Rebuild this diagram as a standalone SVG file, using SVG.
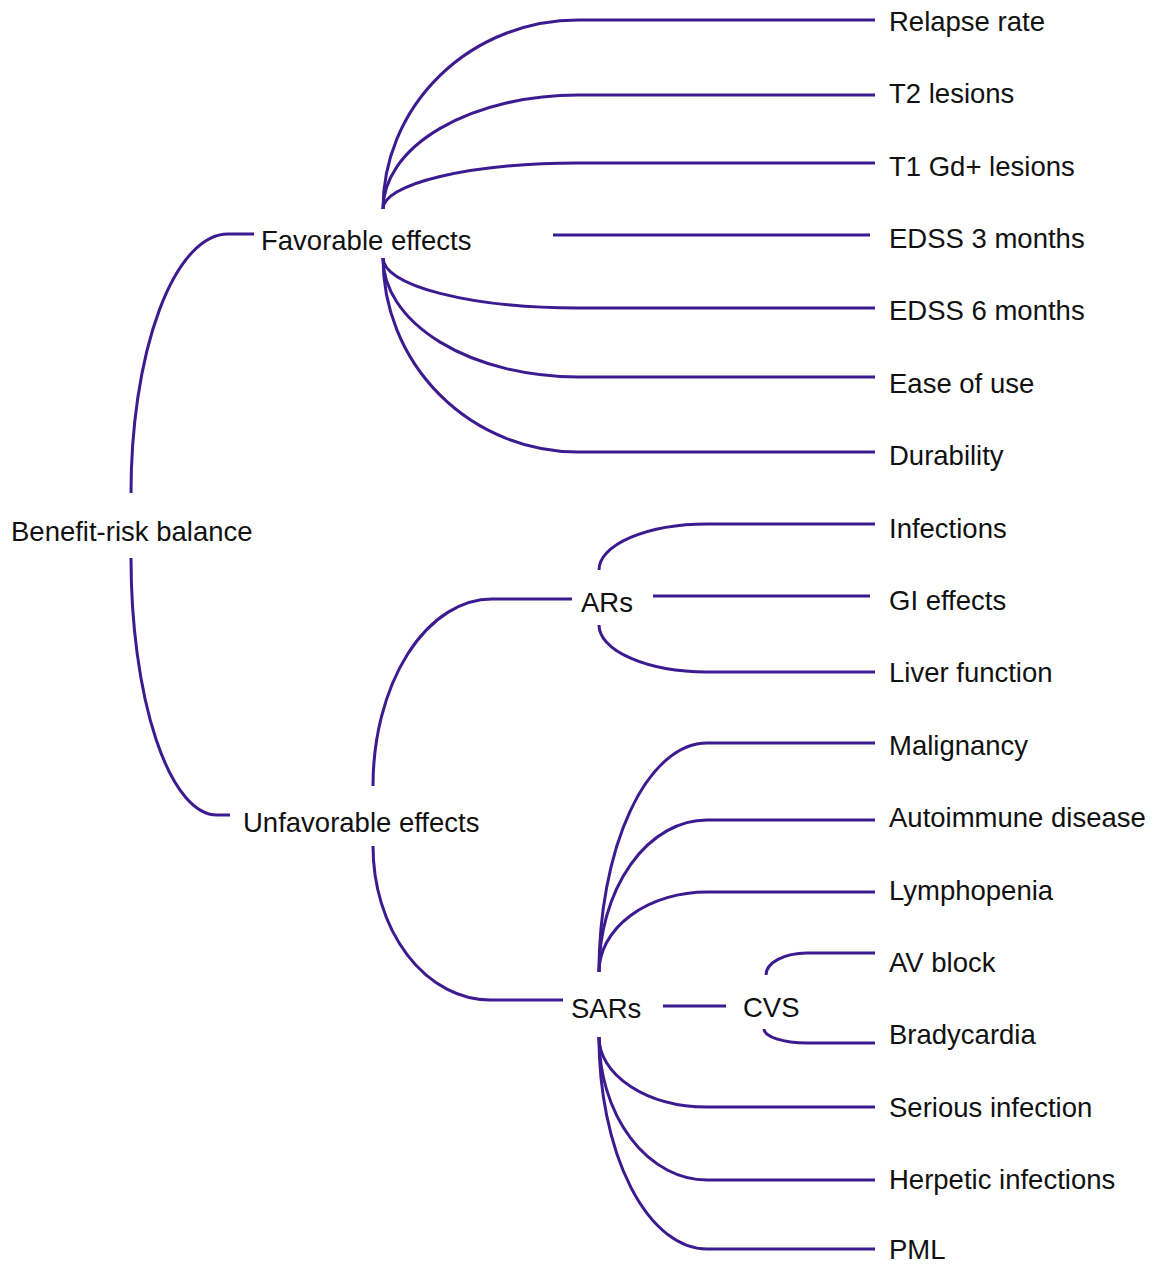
<svg xmlns="http://www.w3.org/2000/svg" width="1154" height="1264" viewBox="0 0 1154 1264">
<style>
.l{fill:none;stroke:#3c1a8f;stroke-width:3;stroke-linecap:butt}
text{font-family:"Liberation Sans",Arial,sans-serif;font-size:27.5px;fill:#111}
</style>
<rect width="1154" height="1264" fill="#fff"/>
<g id="connectors">
<path class="l" d="M131 493 A97 259 0 0 1 228 234 L254 234"/>
<path class="l" d="M131 558 A86 257 0 0 0 217 815 L230 815"/>
<path class="l" d="M383 209 A195 189 0 0 1 578 20 L875 20"/>
<path class="l" d="M383 209 A195 114 0 0 1 578 95 L875 95"/>
<path class="l" d="M383 209 A195 46 0 0 1 578 163 L875 163"/>
<path class="l" d="M553 235 L870 235"/>
<path class="l" d="M383 258 A195 50 0 0 0 578 308 L875 308"/>
<path class="l" d="M383 258 A195 119 0 0 0 578 377 L875 377"/>
<path class="l" d="M383 258 A195 194 0 0 0 578 452 L875 452"/>
<path class="l" d="M373 786 A119 187 0 0 1 492 599 L572 599"/>
<path class="l" d="M373 846 A117 154 0 0 0 490 1000 L563 1000"/>
<path class="l" d="M599 570 A108 46 0 0 1 707 524 L875 524"/>
<path class="l" d="M653 596 L870 596"/>
<path class="l" d="M599 625 A108 47 0 0 0 707 672 L875 672"/>
<path class="l" d="M599 972 A108 229 0 0 1 707 743 L875 743"/>
<path class="l" d="M599 972 A108 152 0 0 1 707 820 L875 820"/>
<path class="l" d="M599 972 A108 80 0 0 1 707 892 L875 892"/>
<path class="l" d="M663 1006 L726 1006"/>
<path class="l" d="M766 975 A41 22 0 0 1 807 953 L875 953"/>
<path class="l" d="M764 1029 A43 14 0 0 0 807 1043 L875 1043"/>
<path class="l" d="M599 1037 A108 70 0 0 0 707 1107 L875 1107"/>
<path class="l" d="M599 1037 A108 143 0 0 0 707 1180 L875 1180"/>
<path class="l" d="M599 1037 A108 212 0 0 0 707 1249 L875 1249"/>
</g>
<g id="root"><text x="11" y="541">Benefit-risk balance</text></g>
<g id="favorable"><text x="261" y="250">Favorable effects</text></g>
<g id="unfavorable"><text x="243" y="832">Unfavorable effects</text></g>
<g id="ars"><text x="581" y="612">ARs</text></g>
<g id="sars"><text x="571" y="1018">SARs</text></g>
<g id="cvs"><text x="743" y="1017">CVS</text></g>
<g id="relapse"><text x="889" y="31">Relapse rate</text></g>
<g id="t2"><text x="889" y="103">T2 lesions</text></g>
<g id="t1"><text x="889" y="176">T1 Gd+ lesions</text></g>
<g id="edss3"><text x="889" y="248">EDSS 3 months</text></g>
<g id="edss6"><text x="889" y="320">EDSS 6 months</text></g>
<g id="ease"><text x="889" y="393">Ease of use</text></g>
<g id="durability"><text x="889" y="465">Durability</text></g>
<g id="infections"><text x="889" y="538">Infections</text></g>
<g id="gi"><text x="889" y="610">GI effects</text></g>
<g id="liver"><text x="889" y="682">Liver function</text></g>
<g id="malignancy"><text x="889" y="755">Malignancy</text></g>
<g id="autoimmune"><text x="889" y="827">Autoimmune disease</text></g>
<g id="lymphopenia"><text x="889" y="900">Lymphopenia</text></g>
<g id="avblock"><text x="889" y="972">AV block</text></g>
<g id="bradycardia"><text x="889" y="1044">Bradycardia</text></g>
<g id="serious"><text x="889" y="1117">Serious infection</text></g>
<g id="herpetic"><text x="889" y="1189">Herpetic infections</text></g>
<g id="pml"><text x="889" y="1259">PML</text></g>
</svg>
